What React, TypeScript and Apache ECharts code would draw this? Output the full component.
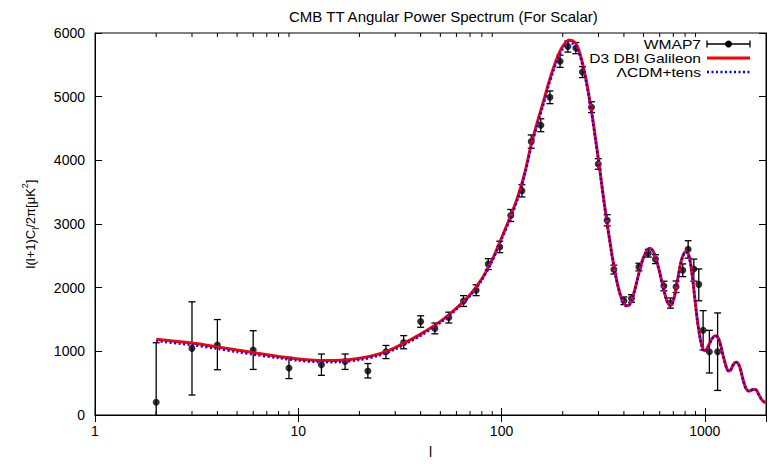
import React, { useEffect, useRef } from "react";
import * as echarts from "echarts";

// WMAP7 binned data: multipole, band power, lower and upper error bounds
const wmapL = [2, 3, 4, 6, 9, 13, 17, 22, 27, 33, 40, 47, 55, 65, 75, 86, 98, 111, 126, 140, 156, 173, 194, 212, 232, 250, 277, 299, 331, 357, 400, 436, 474, 527, 572, 629, 678, 722, 779, 828, 883, 934, 981, 1053, 1156];
const wmapD = [200, 1046, 1100, 1020, 737, 790, 840, 690, 994, 1140, 1468, 1360, 1530, 1790, 1960, 2370, 2640, 3134, 3521, 4294, 4551, 4990, 5556, 5788, 5763, 5386, 4835, 3943, 3057, 2284, 1794, 1830, 2324, 2541, 2448, 2026, 1758, 2015, 2273, 2603, 2294, 2052, 1330, 994, 994];
const wmapLo = [-800, 314, 711, 716, 572, 623, 716, 582, 886, 1040, 1378, 1275, 1445, 1705, 1875, 2285, 2550, 3040, 3425, 4190, 4450, 4890, 5460, 5700, 5675, 5300, 4750, 3860, 2970, 2214, 1734, 1770, 2264, 2481, 2378, 1951, 1678, 1925, 2173, 2464, 2103, 1794, 1021, 660, 386];
const wmapHi = [1135, 1777, 1499, 1324, 907, 958, 958, 808, 1092, 1247, 1558, 1445, 1615, 1875, 2045, 2455, 2730, 3228, 3617, 4398, 4652, 5090, 5652, 5876, 5851, 5472, 4920, 4026, 3147, 2354, 1854, 1890, 2384, 2601, 2518, 2101, 1838, 2105, 2373, 2737, 2449, 2294, 1639, 1330, 1603];

// Theory curves
const theoryL = [2, 3, 4, 5, 6, 8, 10, 12, 15, 20, 25, 30, 35, 40, 50, 60, 70, 80, 90, 100, 110, 120, 130, 140, 150, 160, 170, 180, 190, 200, 215, 230, 240, 250, 260, 270, 280, 290, 300, 310, 320, 330, 340, 350, 360, 370, 380, 390, 400, 410, 420, 436, 450, 460, 474, 490, 500, 515, 527, 537, 550, 560, 572, 590, 600, 615, 629, 650, 665, 678, 690, 700, 711, 722, 740, 760, 780, 800, 818, 830, 840, 850, 860, 870, 880, 900, 920, 940, 960, 981, 1000, 1025, 1050, 1075, 1100, 1125, 1148, 1175, 1200, 1225, 1250, 1280, 1310, 1340, 1370, 1400, 1439, 1470, 1500, 1525, 1550, 1575, 1600, 1644, 1680, 1720, 1771, 1800, 1830, 1870, 1900, 1950, 2000];
const galileonD = [1190, 1130, 1070, 1020, 980, 920, 880, 860, 855, 890, 960, 1060, 1170, 1270, 1470, 1680, 1890, 2140, 2440, 2780, 3100, 3420, 3800, 4250, 4600, 4900, 5200, 5450, 5650, 5790, 5890, 5850, 5730, 5530, 5280, 4990, 4680, 4340, 4000, 3660, 3330, 3030, 2760, 2500, 2280, 2090, 1940, 1830, 1760, 1720, 1720, 1800, 1940, 2060, 2230, 2400, 2480, 2570, 2610, 2620, 2600, 2560, 2480, 2330, 2240, 2090, 1960, 1800, 1740, 1725, 1750, 1800, 1880, 1990, 2180, 2380, 2500, 2560, 2560, 2530, 2470, 2390, 2280, 2160, 2020, 1740, 1480, 1280, 1130, 1030, 1010, 1040, 1110, 1180, 1225, 1245, 1240, 1180, 1080, 960, 850, 740, 690, 710, 770, 820, 830, 790, 710, 620, 530, 460, 410, 376, 385, 400, 402, 385, 340, 285, 245, 210, 190];
const lcdmD = [1160, 1100, 1040, 990, 950, 895, 855, 835, 830, 865, 935, 1035, 1145, 1245, 1450, 1660, 1870, 2120, 2420, 2760, 3070, 3390, 3770, 4210, 4560, 4860, 5160, 5410, 5610, 5750, 5850, 5810, 5700, 5500, 5260, 4970, 4660, 4320, 3990, 3650, 3320, 3020, 2750, 2490, 2270, 2080, 1930, 1820, 1750, 1712, 1712, 1792, 1932, 2052, 2222, 2392, 2472, 2562, 2602, 2612, 2592, 2552, 2472, 2322, 2232, 2082, 1952, 1792, 1732, 1717, 1742, 1792, 1872, 1982, 2172, 2372, 2492, 2552, 2552, 2522, 2462, 2382, 2272, 2152, 2012, 1732, 1472, 1272, 1122, 1022, 1002, 1032, 1102, 1172, 1218, 1238, 1234, 1174, 1074, 954, 845, 736, 686, 706, 766, 816, 826, 786, 706, 616, 527, 457, 407, 374, 383, 398, 400, 383, 338, 283, 243, 208, 188];

// Axes
const xMin = 1;
const xMax = 2000;
const xMajorTicks = [1, 10, 100, 1000];
const xMinorTicks = [2, 3, 4, 5, 6, 7, 8, 9, 20, 30, 40, 50, 60, 70, 80, 90, 200, 300, 400, 500, 600, 700, 800, 900];
const yMin = 0;
const yMax = 6000;
const yStep = 1000;

const FONT = "'Liberation Sans', Arial, Helvetica, sans-serif";

export default function App() {
  const ref = useRef<HTMLDivElement>(null);

  useEffect(() => {
    if (!ref.current) return;
    const chart = echarts.init(ref.current, null, { renderer: "svg" });

    const errData = wmapL.map((l, i) => [l, wmapLo[i], wmapHi[i]]);
    const ptData = wmapL.map((l, i) => [l, wmapD[i]]);
    const galData = theoryL.map((l, i) => [l, galileonD[i]]);
    const lcdmData = theoryL.map((l, i) => [l, lcdmD[i]]);
    const minorData = xMinorTicks.map((l) => [l, yMin]);

    const legendX = 701;
    const symX0 = 707;
    const symX1 = 750;
    const rowY = [44, 58, 72];
    const legFont = `13px ${FONT}`;
    const legScale = 1.2;

    const option: any = {
      animation: false,
      backgroundColor: "#ffffff",
      textStyle: { fontFamily: FONT },
      title: {
        text: "CMB TT Angular Power Spectrum (For Scalar)",
        left: 284,
        top: 4,
        textStyle: { fontSize: 15, fontWeight: "normal", color: "#000", fontFamily: FONT },
      },
      grid: { left: 95, right: 2, top: 33, bottom: 43, show: true, borderColor: "#000", borderWidth: 1 },
      xAxis: [
        {
          type: "log",
          logBase: 10,
          min: xMin,
          max: xMax,
          position: "bottom",
          name: "l",
          nameLocation: "middle",
          nameGap: 30,
          nameTextStyle: { fontSize: 14, color: "#000", fontFamily: FONT },
          axisLine: { show: true, lineStyle: { color: "#000", width: 1 } },
          axisTick: { show: true, inside: true, length: 7, lineStyle: { color: "#000" } },
          axisLabel: {
            show: true,
            color: "#000",
            fontSize: 14,
            margin: 9,
            fontFamily: FONT,
            formatter: (v: number) => {
              const r = Math.round(v);
              return xMajorTicks.indexOf(r) >= 0 && Math.abs(v - r) < 1e-6 * Math.max(1, r) ? String(r) : "";
            },
          },
          splitLine: { show: false },
        },
        {
          type: "log",
          logBase: 10,
          min: xMin,
          max: xMax,
          position: "top",
          axisLine: { show: true, lineStyle: { color: "#000", width: 1 } },
          axisTick: { show: true, inside: true, length: 7, lineStyle: { color: "#000" } },
          axisLabel: { show: false },
          splitLine: { show: false },
        },
      ],
      yAxis: [
        {
          type: "value",
          min: yMin,
          max: yMax,
          interval: yStep,
          position: "left",
          name: "l(l+1)C{sub|l}/2π[μK{sup|2}]",
          nameLocation: "middle",
          nameGap: 55,
          nameTextStyle: {
            fontSize: 13,
            color: "#000",
            fontFamily: FONT,
            lineHeight: 20,
            rich: {
              sub: { fontSize: 9, lineHeight: 10, verticalAlign: "bottom", color: "#000", fontFamily: FONT },
              sup: { fontSize: 9, lineHeight: 10, verticalAlign: "top", color: "#000", fontFamily: FONT },
            },
          },
          axisLine: { show: true, lineStyle: { color: "#000", width: 1 } },
          axisTick: { show: true, inside: true, length: 7, lineStyle: { color: "#000" } },
          axisLabel: {
            show: true,
            color: "#000",
            fontSize: 14,
            margin: 10,
            fontFamily: FONT,
            formatter: (v: number) => String(v),
          },
          splitLine: { show: false },
        },
        {
          type: "value",
          min: yMin,
          max: yMax,
          interval: yStep,
          position: "right",
          axisLine: { show: true, lineStyle: { color: "#000", width: 1 } },
          axisTick: { show: true, inside: true, length: 7, lineStyle: { color: "#000" } },
          axisLabel: { show: false },
          splitLine: { show: false },
        },
      ],
      series: [
        {
          type: "custom",
          name: "minorTicks",
          silent: true,
          xAxisIndex: 0,
          yAxisIndex: 0,
          data: minorData,
          encode: { x: 0, y: 1 },
          renderItem: (_p: any, api: any) => {
            const l = api.value(0);
            const pb = api.coord([l, yMin]);
            const pt = api.coord([l, yMax]);
            const st = { stroke: "#000", lineWidth: 1 };
            return {
              type: "group",
              children: [
                { type: "line", shape: { x1: pb[0], y1: pb[1], x2: pb[0], y2: pb[1] - 4 }, style: st },
                { type: "line", shape: { x1: pt[0], y1: pt[1], x2: pt[0], y2: pt[1] + 4 }, style: st },
              ],
            };
          },
          z: 1,
        },
        {
          type: "custom",
          name: "WMAP7 errors",
          silent: true,
          clip: true,
          xAxisIndex: 0,
          yAxisIndex: 0,
          data: errData,
          encode: { x: 0, y: [1, 2] },
          renderItem: (_p: any, api: any) => {
            const l = api.value(0);
            const lo = api.coord([l, api.value(1)]);
            const hi = api.coord([l, api.value(2)]);
            const w = 3.5;
            const st = { stroke: "#000", lineWidth: 1.3 };
            return {
              type: "group",
              children: [
                { type: "line", shape: { x1: lo[0], y1: lo[1], x2: hi[0], y2: hi[1] }, style: st },
                { type: "line", shape: { x1: lo[0] - w, y1: lo[1], x2: lo[0] + w, y2: lo[1] }, style: st },
                { type: "line", shape: { x1: hi[0] - w, y1: hi[1], x2: hi[0] + w, y2: hi[1] }, style: st },
              ],
            };
          },
          z: 2,
        },
        {
          type: "scatter",
          name: "WMAP7",
          data: ptData,
          symbol: "circle",
          symbolSize: 7,
          itemStyle: { color: "#000" },
          silent: true,
          z: 2,
        },
        {
          type: "line",
          name: "D3 DBI Galileon",
          data: galData,
          showSymbol: false,
          symbol: "none",
          smooth: 0.3,
          lineStyle: { color: "#ff0000", width: 3 },
          silent: true,
          z: 3,
        },
        {
          type: "line",
          name: "ΛCDM+tens",
          data: lcdmData,
          showSymbol: false,
          symbol: "none",
          smooth: 0.3,
          lineStyle: { color: "#0000ff", width: 2.5, type: [2, 2.5] },
          silent: true,
          z: 4,
        },
      ],
      graphic: [
        {
          type: "text",
          x: legendX,
          y: rowY[0],
          scaleX: legScale,
          style: { text: "WMAP7", fill: "#000", font: legFont, textAlign: "right", textVerticalAlign: "middle" },
          z: 10,
        },
        { type: "line", shape: { x1: symX0, y1: rowY[0], x2: symX1, y2: rowY[0] }, style: { stroke: "#000", lineWidth: 1.3 }, z: 10 },
        { type: "line", shape: { x1: symX0, y1: rowY[0] - 3.5, x2: symX0, y2: rowY[0] + 3.5 }, style: { stroke: "#000", lineWidth: 1.3 }, z: 10 },
        { type: "line", shape: { x1: symX1, y1: rowY[0] - 3.5, x2: symX1, y2: rowY[0] + 3.5 }, style: { stroke: "#000", lineWidth: 1.3 }, z: 10 },
        { type: "circle", shape: { cx: (symX0 + symX1) / 2, cy: rowY[0], r: 3.5 }, style: { fill: "#000" }, z: 10 },
        {
          type: "text",
          x: legendX,
          y: rowY[1],
          scaleX: legScale,
          style: { text: "D3 DBI Galileon", fill: "#000", font: legFont, textAlign: "right", textVerticalAlign: "middle" },
          z: 10,
        },
        { type: "line", shape: { x1: symX0, y1: rowY[1], x2: symX1, y2: rowY[1] }, style: { stroke: "#ff0000", lineWidth: 3 }, z: 10 },
        {
          type: "text",
          x: legendX,
          y: rowY[2],
          scaleX: legScale,
          style: { text: "ΛCDM+tens", fill: "#000", font: legFont, textAlign: "right", textVerticalAlign: "middle" },
          z: 10,
        },
        { type: "line", shape: { x1: symX0, y1: rowY[2], x2: symX1, y2: rowY[2] }, style: { stroke: "#0000ff", lineWidth: 2.5, lineDash: [2, 2.5] }, z: 10 },
      ],
    };

    chart.setOption(option);
    return () => chart.dispose();
  }, []);

  return (
    <div
      ref={ref}
      style={{ position: "fixed", left: 0, top: 0, width: 769, height: 464, background: "#fff" }}
    />
  );
}
